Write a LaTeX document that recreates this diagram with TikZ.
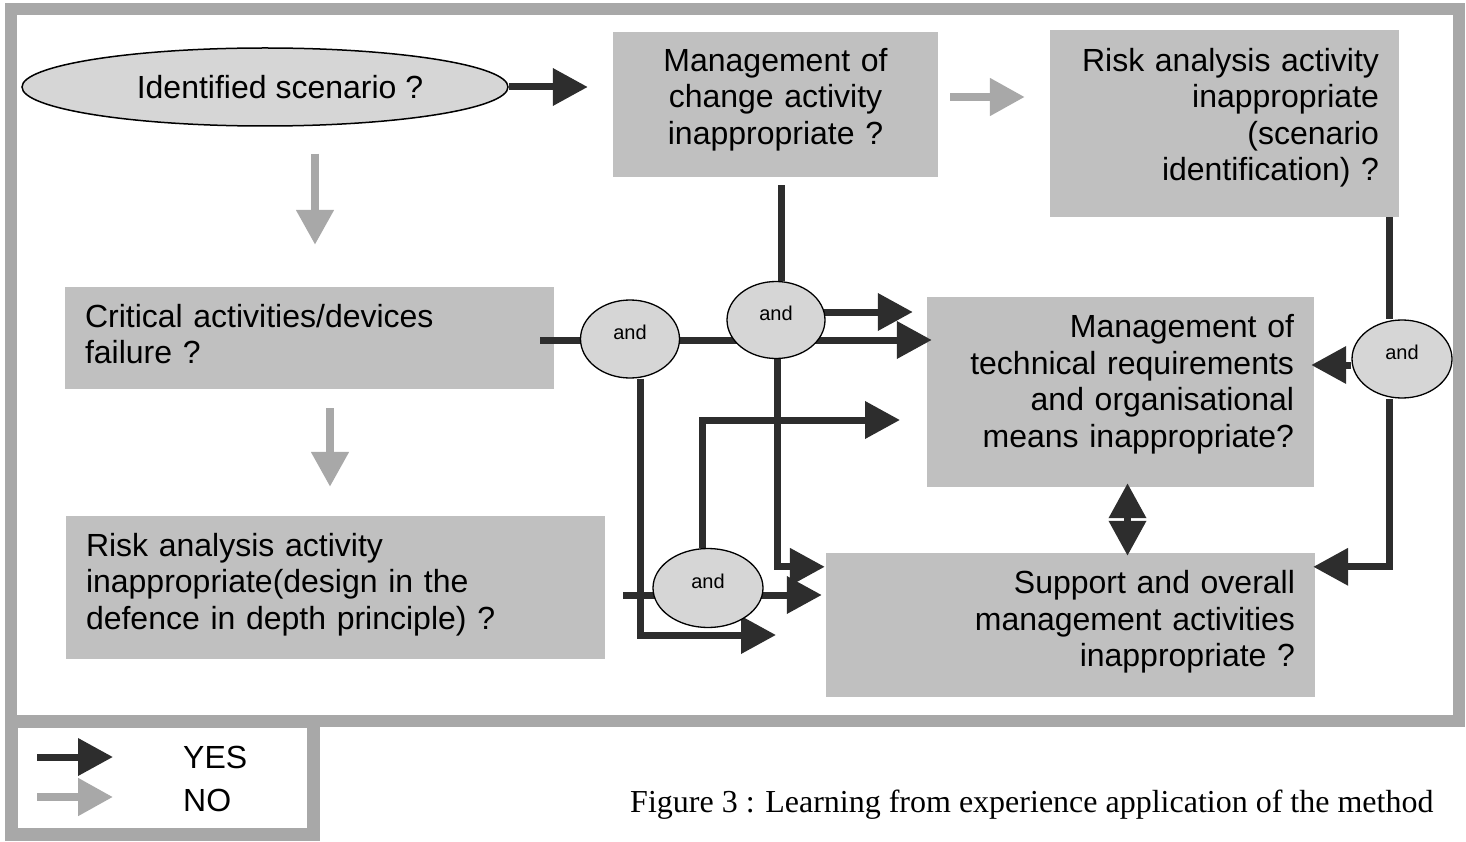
\documentclass[tikz,border=0pt]{standalone}
\usepackage{fontspec}
\setmainfont{Liberation Sans}
\newfontfamily\capfont{Liberation Serif}
\usetikzlibrary{arrows.meta,calc,shapes.geometric}
\pgfdeclarelayer{bg}
\pgfdeclarelayer{front}
\pgfsetlayers{bg,main,front}
\definecolor{boxfill}{RGB}{192,192,192}
\definecolor{ellfill}{RGB}{214,214,214}
\definecolor{framecol}{RGB}{168,168,168}
\definecolor{yescol}{RGB}{45,45,45}
\definecolor{nocol}{RGB}{168,168,168}
\begin{document}
\begin{tikzpicture}[x=1pt,y=-1pt,
  box/.style={rectangle, fill=boxfill, inner xsep=20pt, inner ysep=0pt,
    font=\fontsize{32}{36.5}\selectfont},
  bigell/.style={ellipse, draw=black, line width=1.5pt, fill=ellfill, inner sep=0pt,
    font=\fontsize{32}{36.5}\selectfont},
  andn/.style={ellipse, draw=black, line width=1.3pt, fill=ellfill, inner sep=0pt,
    font=\fontsize{20}{24}\selectfont, text depth=14pt},
  yes/.style={draw=yescol, line width=7pt, -{Triangle[length=35pt,width=36pt]}},
  yesdbl/.style={draw=yescol, line width=7pt, {Triangle[length=35pt,width=36pt]}-{Triangle[length=35pt,width=36pt]}},
  no/.style={draw=nocol, line width=8pt, -{Triangle[length=35pt,width=36pt]}},
  legtxt/.style={anchor=west, inner sep=0pt, font=\fontsize{32}{36.5}\selectfont}
]
\useasboundingbox (0,0) rectangle (1466,842);

\begin{pgfonlayer}{bg}
  \draw[framecol, line width=12pt] (11,9) rectangle (1459,721);
  \draw[framecol, line width=13pt] (11.5,721) rectangle (313.5,834);
\end{pgfonlayer}

% boxes
\node[box, minimum width=325pt, minimum height=145pt, text width=285pt, align=center, text height=13.4pt]
  (mchange) at (775.5,104.5) {Management of\\change activity\\inappropriate ?};
\node[box, minimum width=349pt, minimum height=187pt, text width=309pt, align=right, text height=11.4pt]
  (rscen) at (1224.5,123.5) {Risk analysis activity\\inappropriate\\(scenario\\identification) ?};
\node[box, minimum width=489pt, minimum height=102pt, text width=449pt, align=left, text height=15.4pt]
  (crit) at (309.5,338) {Critical activities/devices\\failure ?};
\node[box, minimum width=539pt, minimum height=143pt, text width=499pt, align=left, text height=17.4pt]
  (rdes) at (335.5,587.5) {Risk analysis activity\\inappropriate(design in the\\defence in depth principle) ?};
\node[box, minimum width=387pt, minimum height=190pt, text width=347pt, align=right, text height=7.4pt]
  (mtech) at (1120.5,392) {Management of\\technical requirements\\and organisational\\means inappropriate?};
\node[box, minimum width=489pt, minimum height=144pt, text width=449pt, align=right, text height=17.4pt]
  (sup) at (1070.5,625) {Support and overall\\management activities\\inappropriate ?};

% ellipses
\begin{pgfonlayer}{front}
  \node[bigell, minimum width=486pt, minimum height=78pt] (ell) at (265,87)
    {\hspace*{30pt}Identified scenario ?};
  \node[andn, minimum width=99pt, minimum height=78pt] (a1) at (630,339) {and};
  \node[andn, minimum width=98pt, minimum height=77pt] (a2) at (776,320) {and};
  \node[andn, minimum width=110pt, minimum height=79pt] (a3) at (708,588) {and};
  \node[andn, minimum width=100pt, minimum height=78pt] (a4) at (1402,359) {and};
\end{pgfonlayer}

% helper points
\coordinate (e1) at (776,635);
\coordinate (e2) at (900,420);
\coordinate (hc) at ($(crit.east)+(0,2)$);
\coordinate (ha2) at ($(a2.east)+(0,-8)$);
\coordinate (hrd) at ($(rdes.east)+(0,7.5)$);
\coordinate (ha4) at ($(a4.west)+(0,6)$);
\coordinate (hmt) at ($(mtech.south)+(7,0)$);
\coordinate (hmc) at ($(mchange.east)+(0,-7.5)$);
\coordinate (hel) at ($(ell.south)+(50,0)$);
\coordinate (hcr) at ($(crit.south)+(20.5,0)$);

% YES connectors
\draw[yes, shorten >=25pt] (ell.east) -- (ell.east -| mchange.west);
\draw[yes, shorten <=-14pt, shorten >=-5pt] (hc) -- (hc -| mtech.west);
\draw[yes, shorten <=-3pt, shorten >=14pt] (ha2) -- (ha2 -| mtech.west);
\draw[yes, -, shorten <=8pt] ($(mchange.south -| a2.north)+(5,0)$) -- ($(a2.north)+(5,0)$);
\draw[yes, shorten >=1pt] ($(a2.south)+(1,0)$) |- ($(sup.north west)+(0,14)$);
\draw[yes] ($(a1.south)+(10,0)$) |- (e1);
\draw[yes, shorten <=18pt, shorten >=4pt] (hrd) -- (hrd -| sup.west);
\draw[yes] ($(a3.north)+(-6,0)$) |- (e2);
\draw[yes, -] ($(rscen.south -| a4.north)+(-13,0)$) -- ($(a4.north)+(-13,0)$);
\draw[yes, shorten >=-2pt] ($(a4.south)+(-13,0)$) |- ($(sup.north east)+(0,14)$);
\draw[yes, shorten >=-3pt] (ha4) -- (ha4 -| mtech.east);
\draw[yesdbl, shorten <=-4pt, shorten >=-3pt] (hmt) -- (hmt |- sup.north);

% NO connectors
\draw[no, shorten <=12pt, shorten >=25pt] (hmc) -- (hmc -| rscen.west);
\draw[no, shorten <=27pt, shorten >=42pt] (hel) -- (hel |- crit.north);
\draw[no, shorten <=19pt, shorten >=29pt] (hcr) -- (hcr |- rdes.north);

% legend
\coordinate (ly1) at (37,757);
\coordinate (ly2) at (113,757);
\coordinate (ln1) at (37,797);
\coordinate (ln2) at (113,797);
\draw[yes] (ly1) -- (ly2);
\draw[no] (ln1) -- (ln2);
\node[legtxt] (lyes) at (183,757) {YES};
\node[legtxt] (lno) at (183,800) {NO};

% caption
\node[anchor=west, inner sep=0pt, font=\capfont\fontsize{32}{36}\selectfont] (cap) at (630,805)
  {Figure 3 : Learning from experience application of the method};
\end{tikzpicture}
\end{document}
